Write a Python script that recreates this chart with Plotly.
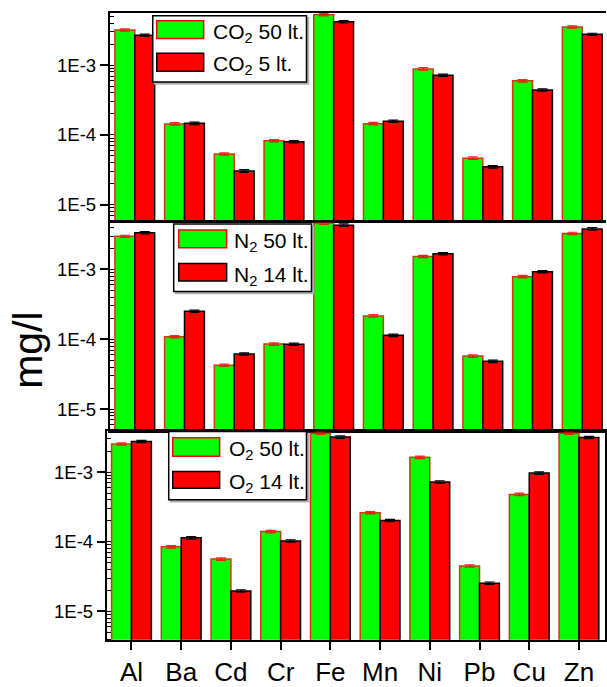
import plotly.graph_objects as go

elements = ["Al", "Ba", "Cd", "Cr", "Fe", "Mn", "Ni", "Pb", "Cu", "Zn"]

co2_50 = [3.20e-3, 1.44e-4, 5.34e-5, 8.27e-5, 5.30e-3, 1.45e-4, 8.87e-4, 4.64e-5, 5.99e-4, 3.54e-3]
co2_5 = [2.69e-3, 1.47e-4, 3.04e-5, 8.00e-5, 4.21e-3, 1.57e-4, 7.20e-4, 3.49e-5, 4.42e-4, 2.78e-3]
co2_50_err = [1.2e-4, 6.0e-6, 2.0e-6, 3.0e-6, 2.0e-4, 6.0e-6, 3.5e-5, 2.0e-6, 2.5e-5, 1.3e-4]
co2_5_err = [1.0e-4, 6.0e-6, 1.3e-6, 3.0e-6, 1.6e-4, 6.0e-6, 2.8e-5, 1.5e-6, 1.7e-5, 1.0e-4]

n2_50 = [2.97e-3, 1.09e-4, 4.25e-5, 8.53e-5, 4.60e-3, 2.16e-4, 1.53e-3, 5.76e-5, 7.88e-4, 3.27e-3]
n2_14 = [3.34e-3, 2.52e-4, 6.15e-5, 8.50e-5, 4.30e-3, 1.14e-4, 1.68e-3, 4.84e-5, 9.27e-4, 3.80e-3]
n2_50_err = [1.1e-4, 4.0e-6, 1.7e-6, 3.5e-6, 1.8e-4, 9.0e-6, 6.0e-5, 2.4e-6, 3.2e-5, 1.3e-4]
n2_14_err = [1.3e-4, 1.0e-5, 2.4e-6, 3.4e-6, 1.7e-4, 4.5e-6, 6.5e-5, 1.9e-6, 3.7e-5, 1.5e-4]

o2_50 = [2.53e-3, 8.47e-5, 5.65e-5, 1.40e-4, 3.62e-3, 2.62e-4, 1.63e-3, 4.49e-5, 4.78e-4, 3.62e-3]
o2_14 = [2.75e-3, 1.14e-4, 1.97e-5, 1.03e-4, 3.18e-3, 2.02e-4, 7.22e-4, 2.55e-5, 9.68e-4, 3.13e-3]
o2_50_err = [1.0e-4, 3.5e-6, 2.3e-6, 5.5e-6, 1.4e-4, 1.0e-5, 6.5e-5, 1.8e-6, 2.0e-5, 1.4e-4]
o2_14_err = [1.1e-4, 4.5e-6, 8.0e-7, 4.0e-6, 1.3e-4, 8.0e-6, 2.9e-5, 1.0e-6, 3.9e-5, 1.2e-4]

panels = [
    ("CO<sub>2</sub> 50 lt.", "CO<sub>2</sub> 5 lt.", co2_50, co2_5, co2_50_err, co2_5_err),
    ("N<sub>2</sub> 50 lt.", "N<sub>2</sub> 14 lt.", n2_50, n2_14, n2_50_err, n2_14_err),
    ("O<sub>2</sub> 50 lt.", "O<sub>2</sub> 14 lt.", o2_50, o2_14, o2_50_err, o2_14_err),
]

W, H = 607, 687
GREEN = "#00FF00"
RED = "#FF0000"
GREEN_EDGE = "#D03A10"
FONT = "Liberation Sans, Arial, sans-serif"

fig = go.Figure()
for i, (n1, n2, v1, v2, e1, e2) in enumerate(panels):
    xa = "x" if i == 0 else f"x{i+1}"
    ya = "y" if i == 0 else f"y{i+1}"
    fig.add_trace(go.Bar(
        x=elements, y=v1, name=n1, xaxis=xa, yaxis=ya,
        marker=dict(color=GREEN, line=dict(color=GREEN_EDGE, width=1.5)),
        error_y=dict(type="data", array=e1, visible=True, color="rgba(255,0,0,0.85)", thickness=1.2, width=5),
    ))
    fig.add_trace(go.Bar(
        x=elements, y=v2, name=n2, xaxis=xa, yaxis=ya,
        marker=dict(color=RED, line=dict(color="black", width=1.5)),
        error_y=dict(type="data", array=e2, visible=True, color="black", thickness=1.2, width=5),
    ))

ydoms = [[1 - 224 / H, 1 - 13 / H], [1 - 435.7 / H, 1 - 225 / H], [1 - 647.3 / H, 1 - 435.7 / H]]
yranges = [[-5.241, -2.248], [-5.307, -2.327], [-5.406, -2.405]]
xdoms = [[110 / W, 1.0], [110 / W, 1.0], [107 / W, 606 / W]]
xranges = [[-0.502, 9.478], [-0.502, 9.478], [-0.496, 9.524]]

tickvals = [1e-5, 1e-4, 1e-3]
ticktext = ["1E-5", "1E-4", "1E-3"]

layout = dict(
    width=W, height=H,
    margin=dict(l=0, r=0, t=0, b=0),
    paper_bgcolor="white", plot_bgcolor="white",
    showlegend=False,
    barmode="group", bargap=0.2, bargroupgap=0.0,
    font=dict(family=FONT, color="black"),
)
for i in range(3):
    sx = "" if i == 0 else str(i + 1)
    last = i == 2
    layout["xaxis" + sx] = dict(
        domain=xdoms[i], range=xranges[i], anchor="y" + sx,
        showline=True, linecolor="black", linewidth=2, mirror=True,
        ticks="outside" if last else "", ticklen=8, tickwidth=1.5, tickcolor="black",
        showticklabels=last, tickfont=dict(size=26, family=FONT, color="black"),
        showgrid=False, zeroline=False, fixedrange=True,
    )
    layout["yaxis" + sx] = dict(
        domain=ydoms[i], type="log", range=yranges[i], anchor="x" + sx,
        showline=True, linecolor="black", linewidth=2, mirror=last,
        tickmode="array", tickvals=tickvals, ticktext=ticktext,
        ticks="outside", ticklen=8, tickwidth=1.5, tickcolor="black",
        tickfont=dict(size=18.5, family=FONT, color="black"),
        minor=dict(ticks="inside", ticklen=4, tickwidth=1, tickcolor="black", dtick="D1", showgrid=False),
        showgrid=False, zeroline=False, fixedrange=True,
    )
fig.update_layout(**layout)


def px(x):
    return x / W


def py(y):
    return 1 - y / H


legends = [
    dict(box=(153, 16, 307, 83), sw=(157, 204), rows=[(21, 39), (54, 72)], tx=211, ty=[30, 63]),
    dict(box=(174, 226.7, 312, 295), sw=(179, 227), rows=[(232.7, 250.7), (266.7, 284.3)], tx=232, ty=[242, 276]),
    dict(box=(169, 436.7, 307, 505.7), sw=(173, 220), rows=[(443, 461.7), (477, 494)], tx=227, ty=[452.5, 486]),
]
shapes = []
annotations = []
for i, lg in enumerate(legends):
    x0, y0, x1, y1 = lg["box"]
    shapes.append(dict(type="rect", xref="paper", yref="paper", x0=px(x0 + 2), x1=px(x1 + 2), y0=py(y1 + 2), y1=py(y0 + 2),
                       line=dict(color="#b0b0b0", width=1.5), fillcolor="#b0b0b0", layer="above"))
    shapes.append(dict(type="rect", xref="paper", yref="paper", x0=px(x0), x1=px(x1), y0=py(y1), y1=py(y0),
                       line=dict(color="black", width=1.5), fillcolor="white", layer="above"))
    sx0, sx1 = lg["sw"]
    (a0, a1), (b0, b1) = lg["rows"]
    shapes.append(dict(type="rect", xref="paper", yref="paper", x0=px(sx0), x1=px(sx1), y0=py(a1), y1=py(a0),
                       line=dict(color=RED, width=1.5), fillcolor=GREEN, layer="above"))
    shapes.append(dict(type="rect", xref="paper", yref="paper", x0=px(sx0), x1=px(sx1), y0=py(b1), y1=py(b0),
                       line=dict(color="black", width=1.5), fillcolor=RED, layer="above"))
    names = [panels[i][0], panels[i][1]]
    for name, ty in zip(names, lg["ty"]):
        annotations.append(dict(xref="paper", yref="paper", x=px(lg["tx"]), y=py(ty + 3), xanchor="left", yanchor="middle",
                                text=name, showarrow=False, font=dict(size=21, family=FONT, color="black")))

annotations.append(dict(xref="paper", yref="paper", x=px(28), y=py(354), text="mg/l", textangle=-90,
                        showarrow=False, xanchor="center", yanchor="middle",
                        font=dict(size=41, family=FONT, color="black")))
fig.update_layout(shapes=shapes, annotations=annotations)

fig.write_html(
    "out.html",
    config={"displayModeBar": False},
    post_script="document.body.style.margin='0';document.body.style.overflow='hidden';",
)
